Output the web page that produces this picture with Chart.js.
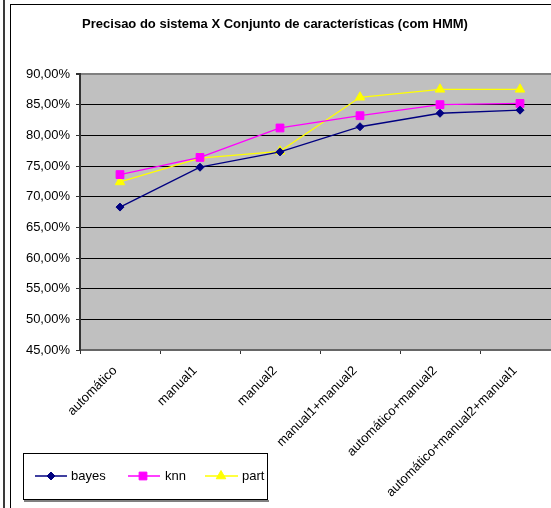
<!DOCTYPE html>
<html><head><meta charset="utf-8">
<script src="https://cdn.jsdelivr.net/npm/chart.js@4/dist/chart.umd.min.js"></script>
<style>
html,body{margin:0;padding:0;overflow:hidden;background:#fff;width:551px;height:508px}
#wrap{position:absolute;left:0;top:0;width:600px;height:508px}
</style>
</head><body><div id="wrap"><canvas id="c" width="600" height="508"></canvas></div>
<script>
const categories = ['automático','manual1','manual2','manual1+manual2','automático+manual2','automático+manual2+manual1'];
const bayes = [68.3, 74.8, 77.3, 81.4, 83.6, 84.1];
const knn   = [73.6, 76.4, 81.2, 83.2, 85.0, 85.2];
const part  = [72.4, 76.3, 77.4, 86.2, 87.5, 87.5];
const yMin = 45, yMax = 90, yStep = 5;
const titleText = 'Precisao do sistema X Conjunto de características (com HMM)';
const seriesNames = ['bayes','knn','part'];
const seriesColors = ['#000080','#FF00FF','#FFFF00'];
const seriesStyles = ['rectRot','rect','triangle'];

const FONT = '"Liberation Sans", Arial, sans-serif';

function drawMarker(ctx, style, x, y, r, color){
  ctx.save();
  ctx.fillStyle = color; ctx.strokeStyle = color; ctx.lineWidth = 1;
  ctx.beginPath();
  if (style === 'rectRot') {
    ctx.moveTo(x, y - r); ctx.lineTo(x + r, y); ctx.lineTo(x, y + r); ctx.lineTo(x - r, y);
  } else if (style === 'rect') {
    const s = r * Math.SQRT1_2;
    ctx.rect(x - s, y - s, 2 * s, 2 * s);
  } else {
    ctx.moveTo(x, y - r);
    ctx.lineTo(x + Math.sin(2*Math.PI/3) * r, y - Math.cos(2*Math.PI/3) * r);
    ctx.lineTo(x + Math.sin(4*Math.PI/3) * r, y - Math.cos(4*Math.PI/3) * r);
  }
  ctx.closePath(); ctx.fill(); ctx.stroke();
  ctx.restore();
}

const decorPlugin = {
  id: 'decor',
  beforeDraw(chart) {
    const ctx = chart.ctx, a = chart.chartArea;
    ctx.save();
    ctx.fillStyle = '#fff'; ctx.fillRect(0, 0, chart.width, chart.height);
    ctx.fillStyle = '#3a3a3a'; ctx.fillRect(3, 0, 2, chart.height);
    ctx.fillStyle = '#000'; ctx.fillRect(10, 4, 1, chart.height - 4);
    ctx.fillRect(10, 4, chart.width - 10, 1);
    ctx.fillStyle = '#C0C0C0';
    ctx.fillRect(a.left, a.top, a.right - a.left, a.bottom - a.top);
    ctx.restore();
  },
  afterDraw(chart) {
    const ctx = chart.ctx;
    ctx.save();
    // title
    ctx.font = 'bold 13px ' + FONT;
    ctx.fillStyle = '#000'; ctx.textAlign = 'center'; ctx.textBaseline = 'middle';
    ctx.fillText(titleText, 275, 24);
    // legend box
    ctx.fillStyle = '#808080'; ctx.fillRect(24, 500, 245, 2);
    ctx.fillStyle = '#fff'; ctx.fillRect(23, 453, 245, 47);
    ctx.strokeStyle = '#000'; ctx.lineWidth = 1;
    ctx.strokeRect(23.5, 453.5, 244, 46);
    const items = [
      {x0: 35, x1: 67, m: 51, t: 71},
      {x0: 128, x1: 160, m: 143, t: 165},
      {x0: 205, x1: 238, m: 221, t: 242}
    ];
    const ly = 476;
    items.forEach((it, i) => {
      ctx.strokeStyle = seriesColors[i]; ctx.lineWidth = 1.5;
      ctx.beginPath(); ctx.moveTo(it.x0, ly); ctx.lineTo(it.x1, ly); ctx.stroke();
      drawMarker(ctx, seriesStyles[i], it.m, ly, i === 0 ? 4 : 5.5, seriesColors[i]);
      ctx.font = '13px ' + FONT; ctx.fillStyle = '#000';
      ctx.textAlign = 'left'; ctx.textBaseline = 'middle';
      ctx.fillText(seriesNames[i], it.t, ly);
    });
    ctx.restore();
  }
};

const datasets = [bayes, knn, part].map((d, i) => ({
  label: seriesNames[i],
  data: d,
  borderColor: seriesColors[i],
  backgroundColor: seriesColors[i],
  borderWidth: 1.3,
  pointStyle: seriesStyles[i],
  pointRadius: i === 0 ? 4 : 5.5,
  pointBorderWidth: 1,
  pointBackgroundColor: seriesColors[i],
  pointBorderColor: seriesColors[i],
  tension: 0,
  fill: false
}));

new Chart(document.getElementById('c'), {
  type: 'line',
  data: { labels: categories, datasets },
  plugins: [decorPlugin],
  options: {
    responsive: false,
    animation: false,
    devicePixelRatio: 1,
    layout: { padding: { top: 74, left: 0, right: 40, bottom: 0 } },
    plugins: { legend: { display: false }, title: { display: false }, tooltip: { enabled: false } },
    scales: {
      x: {
        type: 'category',
        offset: true,
        afterFit(s) { s.height = 158; },
        grid: { drawOnChartArea: false, drawTicks: true, tickLength: 4, tickColor: '#333', offset: true },
        border: { color: '#666', width: 2 },
        ticks: {
          autoSkip: false, maxRotation: 45, minRotation: 45, padding: 9, labelOffset: -5,
          color: '#000', font: { family: FONT, size: 13 }
        }
      },
      y: {
        min: yMin, max: yMax,
        afterFit(s) { s.width = 80; },
        afterBuildTicks(s) {
          const t = [];
          for (let v = yMin; v <= yMax + 1e-9; v += yStep) t.push({ value: v });
          s.ticks = t;
        },
        grid: {
          color: (c) => (c.tick && c.tick.value === yMax) ? '#808080' : '#000',
          lineWidth: (c) => (c.tick && c.tick.value === yMax) ? 2 : 1,
          tickLength: 4, tickColor: '#333'
        },
        border: { color: '#333', width: 2 },
        ticks: {
          padding: 6, color: '#000', font: { family: FONT, size: 13 },
          callback: (v) => Number(v).toFixed(2).replace('.', ',') + '%'
        }
      }
    }
  }
});
</script>
</body></html>
